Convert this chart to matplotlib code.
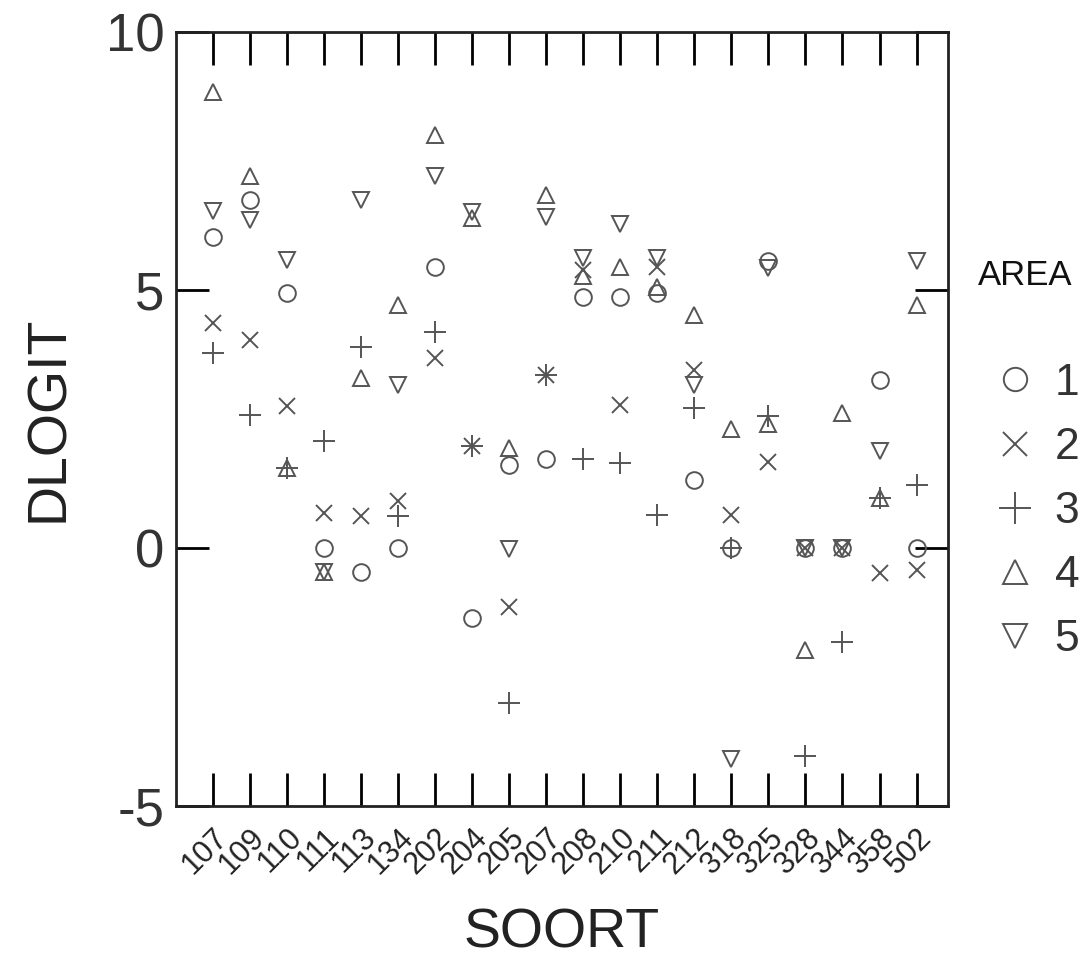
import numpy as np
import matplotlib.pyplot as plt

plt.rcParams['font.family'] = ['Liberation Sans', 'DejaVu Sans']

soort = ['107', '109', '110', '111', '113', '134', '202', '204', '205', '207',
         '208', '210', '211', '212', '318', '325', '328', '344', '358', '502']

area1 = [6.03, 6.74, 4.94, 0.0, -0.46, 0.0, 5.45, -1.36, 1.61, 1.72,
         4.87, 4.87, 4.94, 1.32, 0.0, 5.55, 0.0, 0.0, 3.26, 0.0]
area2 = [4.36, 4.03, 2.74, 0.67, 0.61, 0.90, 3.68, 1.97, -1.14, 3.35,
         5.39, 2.77, 5.45, 3.45, 0.64, 1.67, 0.0, 0.0, -0.49, -0.43]
area3 = [3.78, 2.58, 1.55, 2.07, 3.90, 0.61, 4.19, 1.97, -3.00, 3.35,
         1.72, 1.64, 0.64, 2.71, 0.0, 2.55, -4.04, -1.82, 0.96, 1.22]
area4 = [8.84, 7.20, 1.55, -0.46, 3.29, 4.71, 8.00, 6.40, 1.94, 6.84,
         5.26, 5.45, 5.06, 4.52, 2.30, 2.40, -1.98, 2.61, 0.96, 4.71]
area5 = [6.52, 6.36, 5.58, -0.46, 6.74, 3.16, 7.20, 6.50, -0.03, 6.42,
         5.62, 6.28, 5.62, 3.15, -4.10, 5.42, 0.0, 0.0, 1.87, 5.55]

areas = ['1', '2', '3', '4', '5']
series = [area1, area2, area3, area4, area5]
markers = ['o', 'x', '+', '^', 'v']
sizes = {'o': 12, 'x': 12, '+': 16, '^': 12, 'v': 12}

fig = plt.figure(figsize=(10.91, 9.65), dpi=100)
ax = fig.add_axes([0.161, 0.165, 0.708, 0.802])

x = np.arange(len(soort))
col = '#555555'
for lab, vals, m in zip(areas, series, markers):
    ax.plot(x, vals, linestyle='none', marker=m, markersize=sizes[m],
            markerfacecolor='none', markeredgecolor=col, markeredgewidth=1.4,
            label=lab)

ax.set_xlim(-1, 19.85)
ax.set_ylim(-5, 10)
ax.set_yticks([-5, 0, 5, 10])
ax.set_yticklabels(['-5', '0', '5', '10'], fontsize=38, color='#333333')
ax.set_xticks(x)
ax.set_xticklabels(soort, rotation=45, ha='right', va='top',
                   rotation_mode='anchor', fontsize=22, color='#222222')
ax.tick_params(axis='both', direction='in', length=24, width=2,
               top=True, right=True, pad=8)
ax.tick_params(axis='x', pad=12)
for s in ax.spines.values():
    s.set_linewidth(2)
    s.set_color('#222222')

ax.set_ylabel('DLOGIT', fontsize=40, color='#222222', labelpad=22)
ax.set_xlabel('SOORT', fontsize=40, color='#222222', labelpad=20)

fig.text(0.896, 0.715, 'AREA', fontsize=25, color='#111111',
         ha='left', va='center')
leg = ax.legend(loc='center left', bbox_to_anchor=(1.04, 0.38),
                frameon=False, fontsize=32, borderaxespad=0,
                markerscale=1.4, handlelength=0.8, handletextpad=0.5,
                labelspacing=0.52)
for t in leg.get_texts():
    t.set_color('#333333')

fig.savefig('out.png', dpi=100)
